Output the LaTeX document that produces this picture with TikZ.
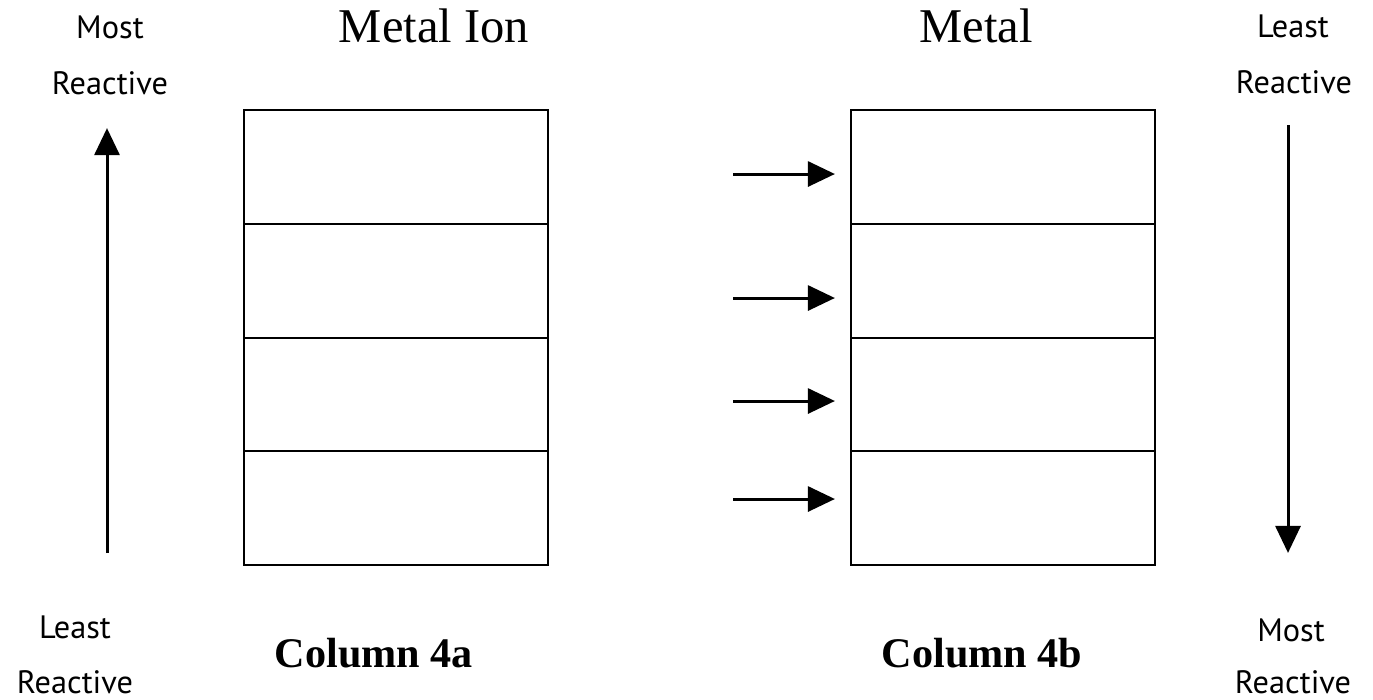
\documentclass[tikz,border=0pt]{standalone}
\usepackage{fontspec}
\setmainfont{Liberation Serif}
\newfontfamily\lblfont{PT Sans}
\usetikzlibrary{arrows.meta,positioning}
\tikzset{
   cell/.style={draw, line width=0.02cm, minimum width=3.04cm,
      minimum height=1.1375cm, inner sep=0pt, outer sep=0pt},
   side/.style={font=\lblfont\fontsize{9.2}{10}\selectfont, anchor=base},
   head/.style={font=\fontsize{13.8}{15}\selectfont, anchor=base},
   foot/.style={font=\bfseries\fontsize{12}{13}\selectfont, anchor=base},
   arr/.style={line width=0.03cm, -{Triangle[width=0.25cm,length=0.27cm]}},
    }
\begin{document}
\begin{tikzpicture}[x=0.01cm, y=-0.01cm]
    \useasboundingbox (0,0) rectangle (1373,699);
    % the two columns
    \foreach \i/\y in {1/167,2/281,3/394.5,4/508}{
        \node[cell] (a\i) at (396,\y) {};
        \node[cell] (b\i) at (1003,\y) {};
    }
    \node[head] (ion) at (434,42) {Metal Ion};
    \node[head] (met) at (976,42) {Metal};
    \node[foot] (cola) at (374,667) {Column 4a};
    \node[foot] (colb) at (982,667) {Column 4b};
    % side labels
    \node[side] (mostL) at (110,38) {Most};
    \node[side] (reacL) at (110,94) {Reactive};
    \node[side] (leastL) at (75,638) {Least};
    \node[side] (reacLL) at (75,693) {Reactive};
    \node[side] (leastR) at (1293,37) {Least};
    \node[side] (reacR) at (1294,93) {Reactive};
    \node[side] (mostR) at (1291,641) {Most};
    \node[side] (reacRR) at (1293,693) {Reactive};
    % arrows
    \coordinate (lowL) at (107,553);
    \draw[arr] (lowL) -- ([yshift=-0.18cm]lowL |- a1.north);
    \coordinate (topR) at (1288,125);
    \draw[arr] (topR) -- ([yshift=0.12cm]topR |- b4.south);
    \foreach \i/\y in {1/174,2/298,3/401,4/499}{
        \coordinate (s\i) at (733,\y);
        \draw[arr] (s\i) -- ([xshift=-0.16cm]s\i -| b\i.west);
    }
\end{tikzpicture}
\end{document}
